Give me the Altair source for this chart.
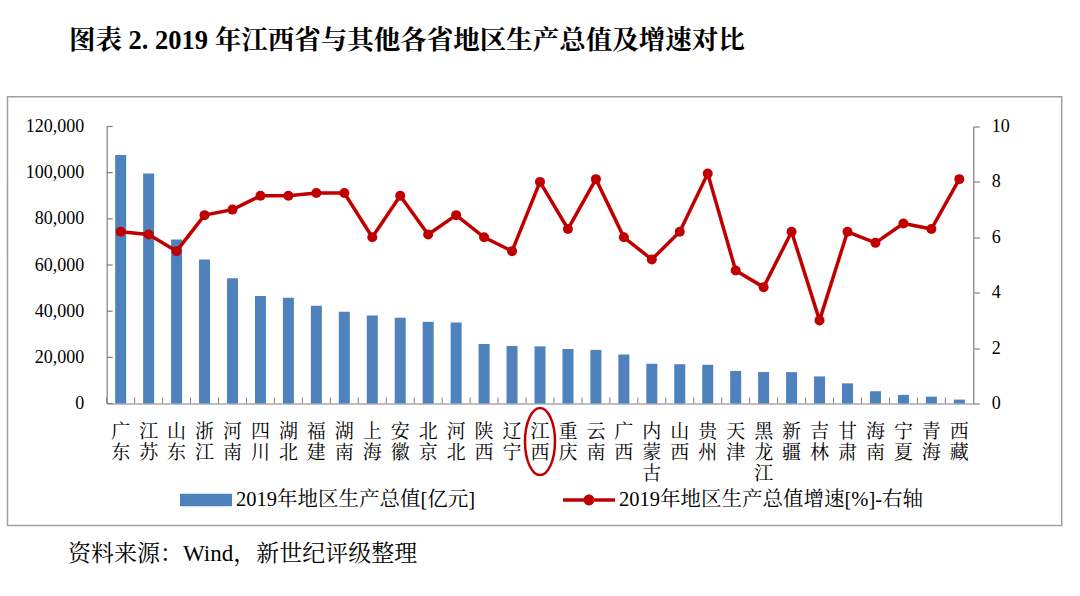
import altair as alt
import pandas as pd

provinces = ["广东", "江苏", "山东", "浙江", "河南", "四川", "湖北", "福建", "湖南", "上海",
             "安徽", "北京", "河北", "陕西", "辽宁", "江西", "重庆", "云南", "广西", "内蒙古",
             "山西", "贵州", "天津", "黑龙江", "新疆", "吉林", "甘肃", "海南", "宁夏", "青海", "西藏"]
gdp = [107671, 99632, 71068, 62352, 54259, 46616, 45828, 42395, 39752, 38155,
       37114, 35371, 35105, 25793, 24909, 24758, 23606, 23224, 21237, 17213,
       17027, 16769, 14104, 13613, 13597, 11727, 8718, 5309, 3748, 2966, 1698]
growth = [6.2, 6.1, 5.5, 6.8, 7.0, 7.5, 7.5, 7.6, 7.6, 6.0,
          7.5, 6.1, 6.8, 6.0, 5.5, 8.0, 6.3, 8.1, 6.0, 5.2,
          6.2, 8.3, 4.8, 4.2, 6.2, 3.0, 6.2, 5.8, 6.5, 6.3, 8.1]
left_ticks = [0, 20000, 40000, 60000, 80000, 100000, 120000]
right_ticks = [0, 2, 4, 6, 8, 10]
series_bar = "2019年地区生产总值[亿元]"
series_line = "2019年地区生产总值增速[%]-右轴"
highlight = ["江西"]
title_text = "图表 2. 2019 年江西省与其他各省地区生产总值及增速对比"
source_text = "资料来源：Wind，新世纪评级整理"

W, H = 866.6, 277
LEFT, TOP = 106.7, 126.5

NUM_FONT = "'Liberation Serif', 'Times New Roman', 'Noto Serif CJK SC', 'Noto Sans CJK SC'"
CJK_FONT = "'Noto Serif CJK SC', 'Noto Sans CJK SC'"
BLUE = "#4F81BD"
RED = "#C00000"
AXIS_GREY = "#808080"

df = pd.DataFrame({"prov": provinces, "gdp": gdp, "growth": growth})
xscale = alt.Scale(domain=provinces, paddingInner=0, paddingOuter=0)
yl_scale = alt.Scale(domain=[0, 120000], nice=False)
yr_scale = alt.Scale(domain=[0, 10], nice=False)

x_axis = alt.Axis(title=None, labelAngle=0, labelExpr="split(datum.label, '')",
                  labelFont=CJK_FONT, labelFontSize=19, labelLineHeight=21,
                  labelColor="black", labelPadding=19, labelOverlap=False, labelBound=False,
                  ticks=False, tickSize=0, domainColor=AXIS_GREY, domainWidth=1.2)
yl_axis = alt.Axis(title=None, values=left_ticks, labelExpr="format(datum.value, ',')",
                   labelFont=NUM_FONT, labelFontSize=18, labelColor="black", ticks=False, tickSize=0,
                   labelPadding=23, grid=False, domainColor=AXIS_GREY, domainWidth=1.2)
yr_axis = alt.Axis(title=None, orient="right", values=right_ticks, labelFont=NUM_FONT,
                   labelFontSize=18, labelColor="black", tickSize=6, tickColor=AXIS_GREY,
                   tickWidth=1.2, labelPadding=12, grid=False, domainColor=AXIS_GREY,
                   domainWidth=1.2)

bars = alt.Chart(df).mark_bar(size=11, color=BLUE).encode(
    x=alt.X("prov:N", scale=xscale, axis=x_axis, sort=provinces),
    y=alt.Y("gdp:Q", scale=yl_scale, axis=yl_axis),
)

ytick_rules = alt.Chart(pd.DataFrame({"gdp": left_ticks})).mark_rule(color=AXIS_GREY, strokeWidth=1.2).encode(
    y=alt.Y("gdp:Q", scale=yl_scale, axis=yl_axis),
    x=alt.value(0), x2=alt.value(6),
)

xtick_rules = alt.Chart(pd.DataFrame({"prov": provinces})).mark_rule(color=AXIS_GREY, strokeWidth=1).encode(
    x=alt.X("prov:N", scale=xscale, bandPosition=0, axis=x_axis, sort=provinces),
    y=alt.value(H - 6), y2=alt.value(H),
)

rect_path = "M-1,-0.245 L1,-0.245 L1,0.245 L-1,0.245 Z"
legend1_df = pd.DataFrame({"s1": [series_bar]})
legend1 = alt.Chart(legend1_df).mark_point(filled=True, opacity=1).encode(
    color=alt.Color("s1:N", scale=alt.Scale(domain=[series_bar], range=[BLUE]),
                    legend=alt.Legend(title=None, orient="none", legendX=180 - LEFT, legendY=474 - TOP,
                                      symbolType=rect_path, symbolSize=2704, symbolStrokeWidth=0,
                                      labelFont=NUM_FONT, labelFontSize=20.5, labelColor="black",
                                      labelOffset=4, labelLimit=500, padding=0)),
).transform_filter("false")

left_group = alt.layer(bars, ytick_rules, xtick_rules, legend1)

line = alt.Chart(df).mark_line(color=RED, strokeWidth=3.5).encode(
    x=alt.X("prov:N", scale=xscale, axis=x_axis, sort=provinces),
    y=alt.Y("growth:Q", scale=yr_scale, axis=yr_axis),
)
points = alt.Chart(df).mark_point(filled=True, opacity=1, size=100, color=RED).encode(
    x=alt.X("prov:N", scale=xscale, axis=x_axis, sort=provinces),
    y=alt.Y("growth:Q", scale=yr_scale, axis=yr_axis),
)

line_path = ("M-1,-0.065 L1,-0.065 L1,0.065 L-1,0.065 Z "
             "M0,-0.21 C0.116,-0.21 0.21,-0.116 0.21,0 C0.21,0.116 0.116,0.21 0,0.21 "
             "C-0.116,0.21 -0.21,0.116 -0.21,0 C-0.21,-0.116 -0.116,-0.21 0,-0.21 Z")
legend2_df = pd.DataFrame({"s2": [series_line]})
legend2 = alt.Chart(legend2_df).mark_point(filled=True, opacity=1).encode(
    color=alt.Color("s2:N", scale=alt.Scale(domain=[series_line], range=[RED]),
                    legend=alt.Legend(title=None, orient="none", legendX=563 - LEFT, legendY=474 - TOP,
                                      symbolType=line_path, symbolSize=2704, symbolStrokeWidth=0,
                                      labelFont=NUM_FONT, labelFontSize=20.5, labelColor="black",
                                      labelOffset=4, labelLimit=500, padding=0)),
).transform_filter("false")

ellipse_path = ("M0,-1 C0.2474,-1 0.448,-0.5523 0.448,0 C0.448,0.5523 0.2474,1 0,1 "
                "C-0.2474,1 -0.448,0.5523 -0.448,0 C-0.448,-0.5523 -0.2474,-1 0,-1 Z")
ellipse = alt.Chart(pd.DataFrame({"prov": highlight})).mark_point(
    shape=ellipse_path, size=4489, filled=False, stroke=RED, strokeWidth=2.5, opacity=1
).encode(
    x=alt.X("prov:N", scale=xscale, axis=x_axis, sort=provinces),
    y=alt.value(441.5 - TOP),
)

right_group = alt.layer(line, points, legend2, ellipse)

border = alt.Chart(pd.DataFrame({"a": [0]})).mark_rect(
    fill="transparent", stroke="#A0A0A0", strokeWidth=1.5
).encode(
    x=alt.value(7.5 - LEFT), x2=alt.value(1061.7 - LEFT),
    y=alt.value(96.7 - TOP), y2=alt.value(525.5 - TOP),
)

title = alt.Chart(pd.DataFrame({"t": [title_text]})).mark_text(
    align="left", baseline="middle", font=NUM_FONT, fontSize=26.5, fontWeight="bold", color="black"
).encode(text="t:N", x=alt.value(69 - LEFT), y=alt.value(41 - TOP))

source = alt.Chart(pd.DataFrame({"t": [source_text]})).mark_text(
    align="left", baseline="middle", font=NUM_FONT, fontSize=23, color="black"
).encode(text="t:N", x=alt.value(68 - LEFT), y=alt.value(554 - TOP))

deco = alt.layer(border, title, source)

chart = alt.layer(deco, left_group, right_group).resolve_scale(
    y="independent", color="independent"
).properties(
    width=W, height=H,
    autosize=alt.AutoSizeParams(type="none"),
    padding={"left": LEFT, "top": TOP, "right": 1080 - LEFT - W, "bottom": 596 - TOP - H},
    background="white",
).configure_view(stroke=None)

chart.save("out.html", embed_options={"renderer": "svg", "actions": False})
